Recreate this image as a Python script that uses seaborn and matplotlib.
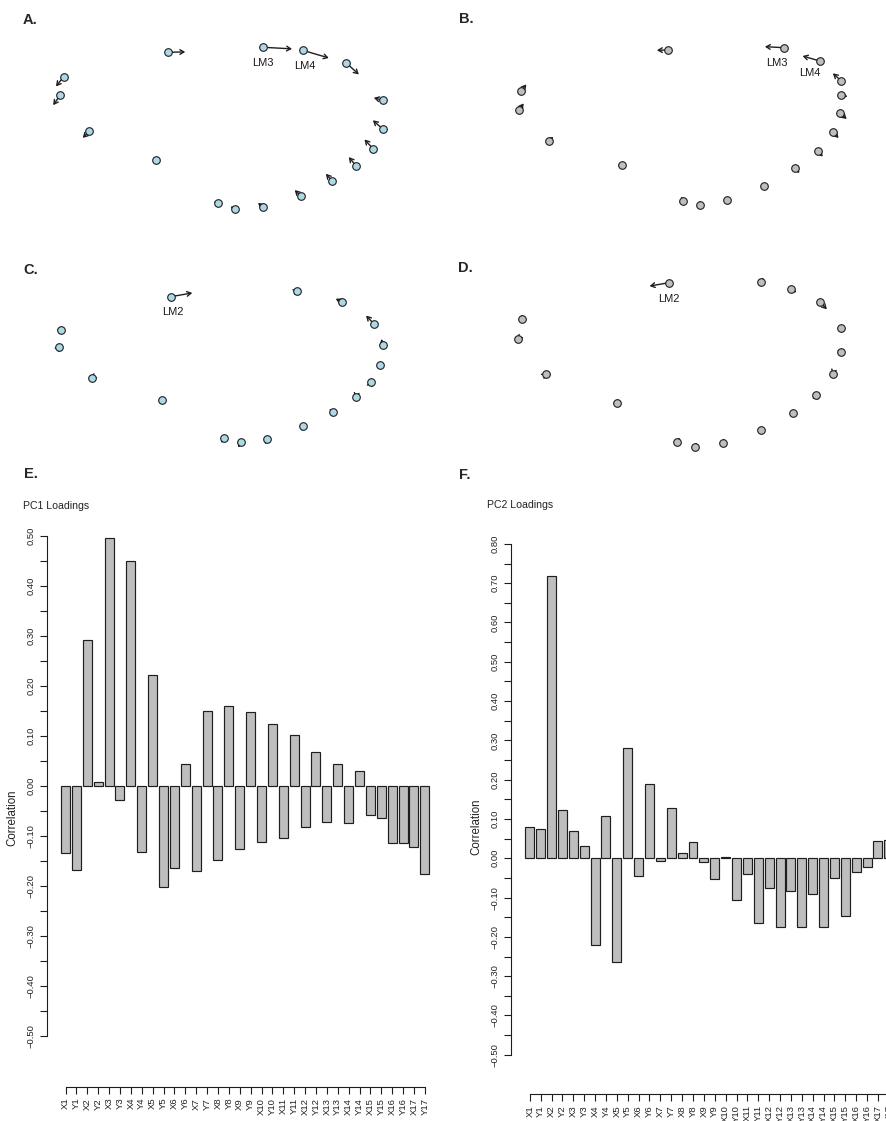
import matplotlib
matplotlib.use("Agg")
import matplotlib.pyplot as plt
import numpy as np
import pandas as pd
import seaborn as sns

sns.set_theme(style="white")
plt.rcParams['font.family'] = ['Liberation Sans', 'DejaVu Sans']

# ---------------------------------------------------------------- data
# landmark coordinate names (X1, Y1, ..., X17, Y17)
coord_names = ["X1", "Y1", "X2", "Y2", "X3", "Y3", "X4", "Y4", "X5", "Y5",
               "X6", "Y6", "X7", "Y7", "X8", "Y8", "X9", "Y9", "X10", "Y10",
               "X11", "Y11", "X12", "Y12", "X13", "Y13", "X14", "Y14",
               "X15", "Y15", "X16", "Y16", "X17", "Y17"]

pc1_loadings = [-0.133, -0.167, 0.292, 0.007, 0.495, -0.027, 0.450, -0.132,
                0.221, -0.202, -0.163, 0.043, -0.169, 0.150, -0.147, 0.159,
                -0.125, 0.148, -0.111, 0.124, -0.103, 0.102, -0.081, 0.067,
                -0.071, 0.043, -0.073, 0.029, -0.057, -0.063, -0.113, -0.113,
                -0.122, -0.175]

pc2_loadings = [0.079, 0.075, 0.719, 0.124, 0.070, 0.031, -0.220, 0.108,
                -0.264, 0.281, -0.044, 0.190, -0.007, 0.128, 0.014, 0.042,
                -0.010, -0.053, 0.003, -0.107, -0.039, -0.165, -0.076, -0.174,
                -0.083, -0.175, -0.091, -0.174, -0.050, -0.146, -0.034, -0.022,
                0.044, 0.047]

# landmark configurations LM1..LM17
shape_a_x = [-1.578, -0.532, 0.418, 0.812, 1.245, 1.618, 1.612, 1.515, 1.345,
             1.108, 0.792, 0.412, 0.132, -0.035, -0.655, -1.322, -1.612]
shape_a_y = [0.383, 0.627, 0.677, 0.647, 0.523, 0.147, -0.140, -0.337, -0.507,
             -0.660, -0.810, -0.917, -0.940, -0.883, -0.447, -0.163, 0.200]

shape_b_x = [-1.432, 0.035, 1.192, 1.552, 1.768, 1.768, 1.758, 1.685, 1.535,
             1.308, 0.992, 0.628, 0.358, 0.185, -0.425, -1.155, -1.455]
shape_b_y = [0.243, 0.650, 0.673, 0.540, 0.340, 0.200, 0.017, -0.170, -0.360,
             -0.533, -0.707, -0.850, -0.900, -0.857, -0.500, -0.260, 0.050]

shape_c_x = [-1.605, -0.508, 0.752, 1.208, 1.525, 1.612, 1.585, 1.495, 1.345,
             1.112, 0.812, 0.458, 0.192, 0.025, -0.598, -1.298, -1.622]
shape_c_y = [0.153, 0.483, 0.543, 0.430, 0.210, 0.003, -0.203, -0.370, -0.517,
             -0.667, -0.810, -0.940, -0.973, -0.927, -0.550, -0.330, -0.023]

shape_d_x = [-1.428, 0.045, 0.962, 1.262, 1.552, 1.762, 1.762, 1.682, 1.518,
             1.288, 0.962, 0.582, 0.302, 0.128, -0.478, -1.182, -1.462]
shape_d_y = [0.260, 0.623, 0.630, 0.557, 0.433, 0.170, -0.073, -0.287, -0.497,
             -0.677, -0.853, -0.983, -1.023, -0.973, -0.577, -0.290, 0.063]

# ---------------------------------------------------------------- figure
W, H = 886, 1121
fig = plt.figure(figsize=(W / 100, H / 100), dpi=100)
fig.patch.set_facecolor("white")


def px_axes(left, top, width, height):
    return fig.add_axes([left / W, 1 - (top + height) / H, width / W, height / H])


BLUE = "#ADD8E6"
GREY = "#BEBEBE"
INK = "#1e1e1e"

# panel: letter, left, top, shape, loadings, arrow scale, fill, labelled landmarks
panels = [
    ("A.", 0, 0, (shape_a_x, shape_a_y), pc1_loadings, 0.58, BLUE,
     {3: (0, -15.7), 4: (2, -15.7)}),
    ("B.", 443, 0, (shape_b_x, shape_b_y), pc1_loadings, -0.38, GREY,
     {3: (-7, -15.7), 4: (-10, -11.7)}),
    ("C.", 0, 230, (shape_c_x, shape_c_y), pc2_loadings, 0.30, BLUE,
     {2: (2.6, -15)}),
    ("D.", 443, 230, (shape_d_x, shape_d_y), pc2_loadings, -0.27, GREY,
     {2: (0, -16.6)}),
]

for letter, left, top, (sx, sy), loads, k, fill, labelled in panels:
    ax = px_axes(left, top, 443, 230)
    sx = np.asarray(sx)
    sy = np.asarray(sy)
    lx = np.asarray(loads[0::2])
    ly = np.asarray(loads[1::2])
    for x0, y0, dx, dy in zip(sx, sy, lx, ly):
        ax.annotate("", xy=(x0 + k * dx, y0 + k * dy), xytext=(x0, y0),
                    arrowprops=dict(arrowstyle="->,head_length=0.36,head_width=0.21",
                                    lw=1.0, color=INK,
                                    shrinkA=0, shrinkB=0, mutation_scale=8),
                    zorder=2)
    sns.scatterplot(x=sx, y=sy, s=30, color=fill, edgecolor=INK,
                    linewidth=0.8, ax=ax, zorder=3, legend=False)
    for lm, (ox, oy) in labelled.items():
        # offsets are in pixels -> points
        ax.annotate(f"LM{lm}", xy=(sx[lm - 1], sy[lm - 1]),
                    xytext=(ox * 0.72, oy * 0.72), textcoords="offset points",
                    ha="center", va="center", fontsize=8, color="#1a1a1a")
    ax.set_xlim(-2.215, 2.215)
    ax.set_ylim(-1.15, 1.15)
    ax.set_axis_off()

letters_px = {"A.": (23, 20), "B.": (459, 19), "C.": (23, 270), "D.": (458, 268),
              "E.": (24, 474), "F.": (459, 475)}
for t, (x, y) in letters_px.items():
    fig.text(x / W, 1 - y / H, t, fontsize=10.5, fontweight="bold",
             ha="left", va="center")


def tick_text(v):
    if round(v * 100) % 10 != 0:
        return ""
    if abs(v) < 1e-9:
        return "0.00"
    return f"{v:.2f}".replace("-", "\u2212")


def loadings_chart(left_px, top_px, right_px, bottom_px, zero_px, unit_px,
                   first_px, pitch_px, values, ymax, title, title_xy, ylab_xy):
    ax = px_axes(left_px, top_px, right_px - left_px, bottom_px - top_px)
    df = pd.DataFrame({"coord": coord_names, "value": values})
    sns.barplot(data=df, x="coord", y="value", order=coord_names,
                color=GREY, saturation=1, edgecolor=INK, linewidth=0.85,
                width=0.826, ax=ax)
    ax.set_xlim((left_px - first_px) / pitch_px, (right_px - first_px) / pitch_px)
    ax.set_ylim(-(bottom_px - zero_px) / unit_px, (zero_px - top_px) / unit_px)
    for s in ("top", "right"):
        ax.spines[s].set_visible(False)
    ax.spines["left"].set_bounds(-0.5, ymax)
    ax.spines["bottom"].set_bounds(0, len(coord_names) - 1)
    for s in ("left", "bottom"):
        ax.spines[s].set_color(INK)
        ax.spines[s].set_linewidth(0.8)
    ticks = np.round(np.arange(-0.5, ymax + 0.001, 0.05), 2)
    ax.set_yticks(ticks)
    ax.set_yticklabels([tick_text(v) for v in ticks])
    ax.set_xticks(range(len(coord_names)))
    ax.set_xticklabels(coord_names)
    ax.tick_params(axis="both", which="major", direction="out", length=5,
                   width=0.8, color=INK, labelsize=6.8, labelcolor="#222222",
                   left=True, bottom=True)
    ax.tick_params(axis="y", pad=3)
    ax.tick_params(axis="x", pad=3)
    plt.setp(ax.get_yticklabels(), rotation=90, va="center")
    plt.setp(ax.get_xticklabels(), rotation=90, ha="center", va="top")
    ax.set_xlabel("")
    ax.set_ylabel("")
    ax.grid(False)
    ax.patch.set_alpha(0)
    fig.text(ylab_xy[0] / W, 1 - ylab_xy[1] / H, "Correlation", rotation=90,
             fontsize=8.3, color="#222222", ha="center", va="center")
    fig.text(title_xy[0] / W, 1 - title_xy[1] / H, title, fontsize=7.6,
             ha="left", va="center", color="#222222")
    return ax


loadings_chart(46.7, 520, 440, 1086.7, 786.0, 500.6, 65.5, 10.89,
               pc1_loadings, 0.5, "PC1 Loadings", (23, 506), (12, 818))
loadings_chart(510.7, 520, 920, 1094.0, 858.3, 393.0, 529.8, 10.88,
               pc2_loadings, 0.8, "PC2 Loadings", (487, 505), (476, 826.5))

fig.savefig("out.png", dpi=100, facecolor="white")
